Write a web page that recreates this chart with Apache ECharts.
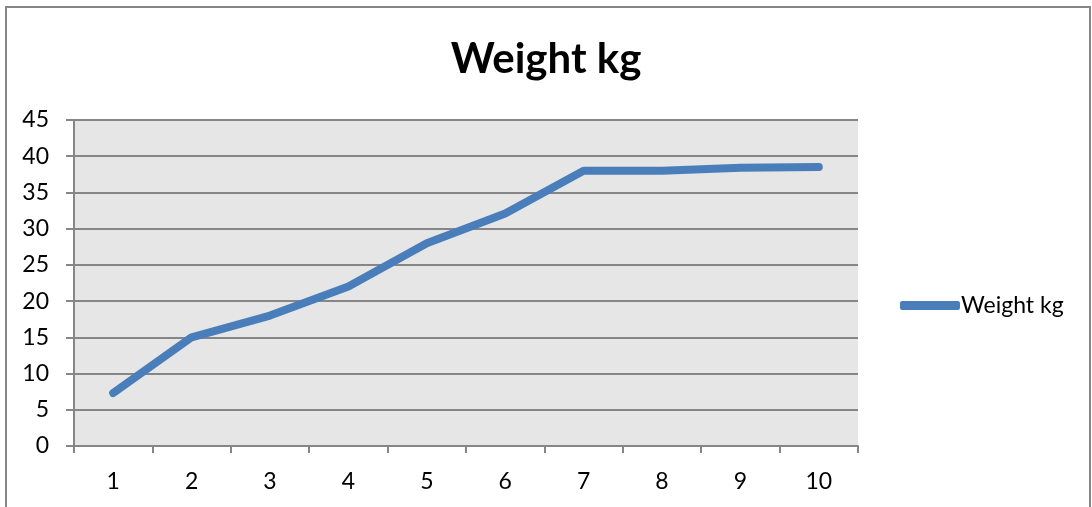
<!DOCTYPE html>
<html>
<head>
<meta charset="utf-8">
<script src="https://cdn.jsdelivr.net/npm/echarts@6/dist/echarts.min.js"></script>
<style>html,body{margin:0;padding:0;background:#fff}#c{width:1092px;height:507px}</style>
</head>
<body>
<div id="c"></div>
<script>
const categories = ['1','2','3','4','5','6','7','8','9','10'];
const weightKg = [7.3, 15, 18, 22, 28, 32.1, 38, 38, 38.4, 38.5];
const seriesName = 'Weight kg';
const titleText = 'Weight kg';

const FONT = 'Lato';
const chart = echarts.init(document.getElementById('c'), null, {renderer: 'canvas'});
chart.setOption({
  animation: false,
  backgroundColor: '#fff',
  title: {
    text: titleText, left: 'center', top: 33,
    textStyle: {fontFamily: FONT, fontSize: 42, fontWeight: 'bold', color: '#000'}
  },
  legend: {
    data: [seriesName], left: 895, top: 289, itemWidth: 60, itemHeight: 9,
    icon: 'roundRect',
    textStyle: {fontFamily: FONT, fontSize: 23, color: '#000', padding: [0,0,0,-4]}
  },
  grid: {left: 74, right: 234, top: 120, bottom: 61, show: true, backgroundColor: '#e6e6e6', borderWidth: 0},
  xAxis: {
    type: 'category', data: categories, boundaryGap: true,
    axisLine: {lineStyle: {color: '#868686', width: 2}},
    axisTick: {show: true, length: 7, lineStyle: {color: '#868686', width: 2}},
    axisLabel: {fontFamily: FONT, fontSize: 23, color: '#000', margin: 24},
    splitLine: {show: false}
  },
  yAxis: {
    type: 'value', min: 0, max: 45, interval: 5,
    axisLine: {show: true, lineStyle: {color: '#868686', width: 2}},
    axisTick: {show: true, length: 8, lineStyle: {color: '#868686', width: 2}},
    axisLabel: {fontFamily: FONT, fontSize: 23, color: '#000', margin: 25},
    splitLine: {show: true, lineStyle: {color: '#868686', width: 2}}
  },
  series: [{
    name: seriesName, type: 'line', data: weightKg, showSymbol: false, symbol: 'none',
    color: '#4a7ebb',
    lineStyle: {width: 8, color: '#4a7ebb', cap: 'round', join: 'round'}
  }],
  graphic: [{
    type: 'rect', silent: true, z: 100,
    shape: {x: 6, y: 7, width: 1084, height: 520},
    style: {fill: 'none', stroke: '#868686', lineWidth: 2}
  }]
});
</script>
</body>
</html>
